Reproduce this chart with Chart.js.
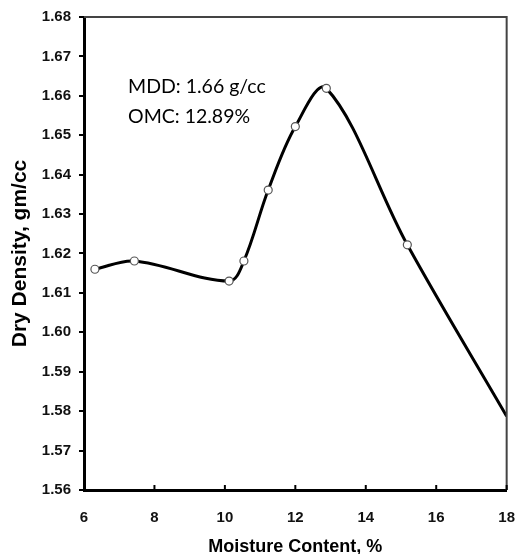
<!DOCTYPE html>
<html>
<head>
<meta charset="utf-8">
<script src="https://cdn.jsdelivr.net/npm/chart.js@4"></script>
<style>
html,body{margin:0;padding:0;background:#fff;}
#wrap{width:517px;height:554px;}
</style>
</head>
<body>
<div id="wrap"><canvas id="c" width="517" height="554"></canvas></div>
<script>
const moisture = [6.31, 7.43, 10.12, 10.54, 11.23, 12.0, 12.88, 15.18, 18.0];
const density = [1.6160, 1.6181, 1.6130, 1.6181, 1.6361, 1.6522, 1.6619, 1.6222, 1.5787];
const markerShown = [true, true, true, true, true, true, true, true, false];
const xTicks = [6, 8, 10, 12, 14, 16, 18];
const yTicks = [1.56, 1.57, 1.58, 1.59, 1.60, 1.61, 1.62, 1.63, 1.64, 1.65, 1.66, 1.67, 1.68];
const noteLines = ["MDD: 1.66 g/cc", "OMC: 12.89%"];
const xTitle = "Moisture Content, %";
const yTitle = "Dry Density, gm/cc";

const frame = {
  id: 'frame',
  afterDatasetsDraw(chart) {
    const {ctx, chartArea: a, scales} = chart;
    ctx.save();
    ctx.strokeStyle = '#444';
    ctx.lineWidth = 2;
    ctx.beginPath();
    ctx.moveTo(a.left, a.top); ctx.lineTo(a.right, a.top); ctx.lineTo(a.right, a.bottom);
    ctx.stroke();
    ctx.strokeStyle = '#000';
    ctx.lineWidth = 2;
    xTicks.forEach(v => {
      const px = scales.x.getPixelForValue(v);
      ctx.beginPath(); ctx.moveTo(px, a.bottom); ctx.lineTo(px, a.bottom - 5); ctx.stroke();
    });
    ctx.fillStyle = '#000';
    ctx.font = '19.5px Lato, "Open Sans", sans-serif';
    ctx.textBaseline = 'alphabetic';
    const x0 = scales.x.getPixelForValue(7.25);
    ctx.fillText(noteLines[0], x0, scales.y.getPixelForValue(1.6608));
    ctx.fillText(noteLines[1], x0, scales.y.getPixelForValue(1.6532));
    ctx.restore();
  }
};

new Chart(document.getElementById('c'), {
  type: 'line',
  data: {
    datasets: [{
      data: moisture.map((x, i) => ({x, y: density[i]})),
      borderColor: '#000',
      borderWidth: 3,
      tension: 0.35,
      cubicInterpolationMode: 'default',
      pointRadius: markerShown.map(s => s ? 4 : 0),
      pointBackgroundColor: '#fff',
      pointBorderColor: '#555',
      pointBorderWidth: 1.2,
      fill: false
    }]
  },
  options: {
    responsive: false,
    animation: false,
    devicePixelRatio: 1,
    layout: {padding: {left: 0, right: 0, top: 9, bottom: 0}},
    plugins: {legend: {display: false}, tooltip: {enabled: false}},
    scales: {
      x: {
        type: 'linear', min: 6, max: 18,
        afterBuildTicks: s => { s.ticks = xTicks.map(v => ({value: v})); },
        afterFit: s => { s.height = 64; },
        border: {display: true, color: '#000', width: 3},
        grid: {drawOnChartArea: false, drawTicks: true, tickLength: 17, color: 'rgba(0,0,0,0)'},
        ticks: {color: '#111', font: {family: 'Arial, "Liberation Sans"', size: 15, weight: 'bold'}, padding: 2, maxRotation: 0},
        title: {display: true, text: xTitle, color: '#000', font: {family: 'Arial, "Liberation Sans"', size: 18, weight: 'bold', lineHeight: 0.8}, padding: {top: 0, bottom: 0}}
      },
      y: {
        type: 'linear', min: 1.56, max: 1.68,
        afterBuildTicks: s => { s.ticks = yTicks.map(v => ({value: v})); },
        afterFit: s => { s.width = 84; },
        border: {display: true, color: '#000', width: 3},
        grid: {drawOnChartArea: false, drawTicks: true, tickLength: 5, color: '#000', lineWidth: 2},
        ticks: {color: '#111', font: {family: 'Arial, "Liberation Sans"', size: 15, weight: 'bold'}, padding: 8,
          callback: v => v.toFixed(2)},
        title: {display: true, text: yTitle, color: '#000', font: {family: 'Arial, "Liberation Sans"', size: 21, weight: 'bold'}, padding: {top: 8, bottom: 0}}
      }
    }
  },
  plugins: [frame]
});
</script>
</body>
</html>
